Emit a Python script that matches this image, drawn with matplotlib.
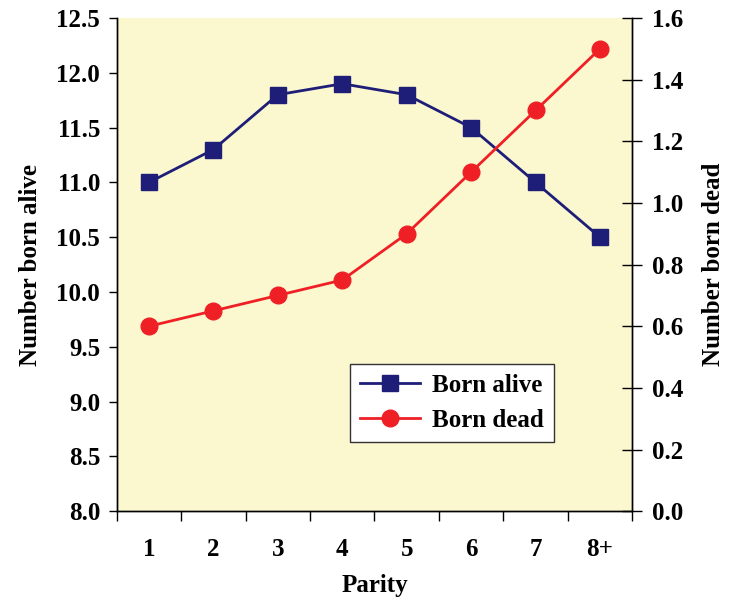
import numpy as np
import matplotlib.pyplot as plt
from matplotlib.ticker import FixedLocator, NullFormatter

parity = ["1", "2", "3", "4", "5", "6", "7", "8+"]
born_alive = [11.0, 11.3, 11.8, 11.9, 11.8, 11.5, 11.0, 10.5]
born_dead = [0.60, 0.65, 0.70, 0.75, 0.90, 1.10, 1.30, 1.50]

plt.rcParams["font.family"] = ["Liberation Serif", "DejaVu Serif"]
plt.rcParams["font.weight"] = "bold"
FS = 18

fig = plt.figure(figsize=(7.3, 6.0), dpi=100)
ax = fig.add_axes([0.160, 0.148, 0.706, 0.822])
ax.set_facecolor("#FBF7CE")
x = np.arange(1, len(parity) + 1)

l1, = ax.plot(x, born_alive, color="#1E1E78", lw=2, marker="s", ms=12,
              label="Born alive", zorder=3)
ax.set_xlim(0.5, len(parity) + 0.5)
ax.set_ylim(8.0, 12.5)
ax.set_yticks(np.arange(8.0, 12.51, 0.5))
ax.set_yticklabels([f"{v:.1f}" for v in np.arange(8.0, 12.51, 0.5)])
# ticks sit between categories, labels at the centres
ax.xaxis.set_major_locator(FixedLocator(np.arange(0.5, len(parity) + 1, 1)))
ax.xaxis.set_major_formatter(NullFormatter())
ax.xaxis.set_minor_locator(FixedLocator(x))
ax.set_xticklabels(parity, minor=True)
ax.tick_params(axis="x", which="major", direction="out", length=7, width=1)
ax.tick_params(axis="x", which="minor", length=0, pad=19, labelsize=FS)
ax.tick_params(axis="y", direction="out", length=6, width=1, labelsize=FS, pad=6)
ax.set_xlabel("Parity", fontsize=FS, fontweight="bold", labelpad=10)
ax.set_ylabel("Number born alive", fontsize=FS, fontweight="bold", labelpad=10)

ax2 = ax.twinx()
l2, = ax2.plot(x, born_dead, color="#EE2026", lw=2, marker="o", ms=12,
               label="Born dead", zorder=3)
ax2.set_ylim(0.0, 1.6)
ax2.set_yticks(np.arange(0.0, 1.61, 0.2))
ax2.set_yticklabels([f"{v:.1f}" for v in np.arange(0.0, 1.61, 0.2)])
ax2.tick_params(axis="y", direction="inout", length=14, width=1, labelsize=FS, pad=7)
ax2.set_ylabel("Number born dead", fontsize=FS, fontweight="bold", labelpad=14)

for a in (ax, ax2):
    a.spines["top"].set_visible(False)
    for s in a.spines.values():
        s.set_linewidth(1)

leg = ax.legend(handles=[l1, l2], loc="lower left", bbox_to_anchor=(0.452, 0.14),
                prop={"size": FS, "weight": "bold"}, frameon=True, fancybox=False,
                edgecolor="#333333", framealpha=1, handlelength=2.4,
                borderpad=0.4, labelspacing=0.5, handletextpad=0.5,
                borderaxespad=0)
leg.get_frame().set_linewidth(1)

fig.savefig("out.png", dpi=100)
